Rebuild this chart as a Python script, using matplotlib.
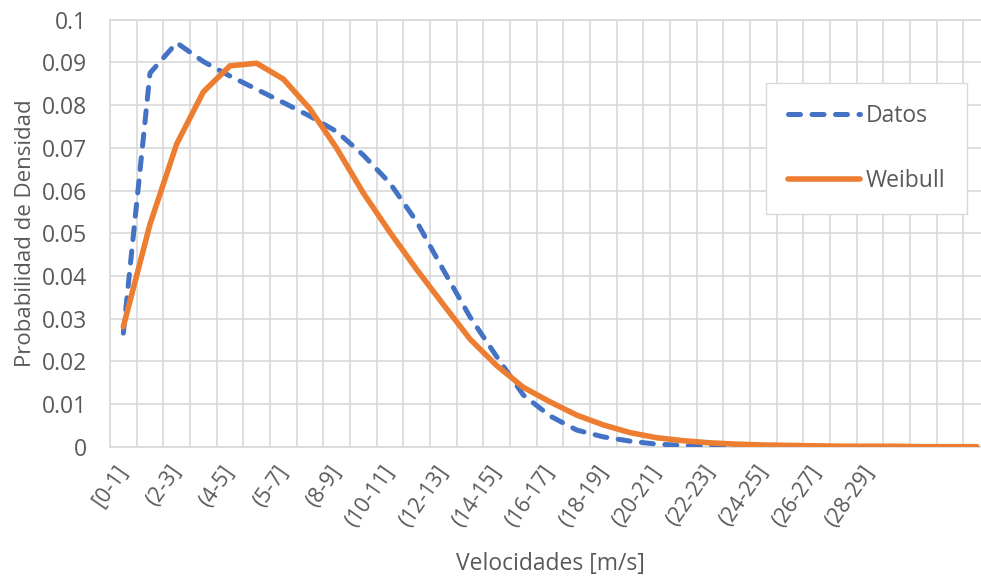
import matplotlib
matplotlib.use('Agg')
import matplotlib.pyplot as plt
from matplotlib.transforms import ScaledTranslation

# wind speed bins (one per m/s), only every second one is labelled
n_bins = 33
tick_labels = ['[0-1]', '(2-3]', '(4-5]', '(5-7]', '(8-9]', '(10-11]', '(12-13]',
               '(14-15]', '(16-17]', '(18-19]', '(20-21]', '(22-23]', '(24-25]',
               '(26-27]', '(28-29]']

datos = [0.0266, 0.0875, 0.0946, 0.0902, 0.0868, 0.0837, 0.0806, 0.0774, 0.0738,
         0.0683, 0.0617, 0.0527, 0.0414, 0.0304, 0.0211, 0.0121, 0.0072, 0.0039,
         0.0023, 0.0013, 0.0006, 0.0003, 0.0001, 0.0, 0.0, 0.0, 0.0, 0.0, 0.0,
         0.0, 0.0, 0.0, 0.0]
weibull = [0.0281, 0.0521, 0.0709, 0.0831, 0.0892, 0.0898, 0.0861, 0.0791, 0.0699,
           0.0594, 0.0502, 0.0415, 0.0333, 0.0252, 0.0190, 0.0139, 0.0105, 0.0074,
           0.0051, 0.0033, 0.0021, 0.0014, 0.0009, 0.0006, 0.0004, 0.0003, 0.0002,
           0.0001, 0.0001, 0.0001, 0.0, 0.0, 0.0]

y_ticks = [0, 0.01, 0.02, 0.03, 0.04, 0.05, 0.06, 0.07, 0.08, 0.09, 0.1]
y_tick_labels = ['0', '0.01', '0.02', '0.03', '0.04', '0.05', '0.06', '0.07',
                 '0.08', '0.09', '0.1']

grey = '#595959'
grid = '#d9d9d9'
plt.rcParams['font.family'] = ['Open Sans', 'DejaVu Sans']
fs = 16.5

fig = plt.figure(figsize=(9.81, 5.78), dpi=100)
# the plot area runs a little past the right edge, as in the original crop
ax = fig.add_axes([110 / 981, 1 - 446.7 / 578, 880 / 981, 427 / 578])

x = list(range(n_bins))
ax.plot(x, datos, color='#4472C4', lw=3.6, dashes=(2.4, 2.3),
        dash_capstyle='round', solid_joinstyle='round', label='Datos', zorder=3)
ax.plot(x, weibull, color='#ED7D31', lw=4.0, solid_capstyle='round',
        solid_joinstyle='round', label='Weibull', zorder=4)

ax.set_xlim(-0.5, n_bins - 0.5)
ax.set_ylim(0, 0.1)

# gridlines on category boundaries
ax.set_xticks([i - 0.5 for i in range(n_bins + 1)], minor=True)
ax.set_xticks(list(range(0, 30, 2)))
ax.set_xticklabels(tick_labels, rotation=55, ha='right', va='center',
                   rotation_mode='anchor', color=grey, fontsize=15.5)
shift = ScaledTranslation(7 / 100, 0, fig.dpi_scale_trans)
for lab in ax.get_xticklabels():
    lab.set_transform(lab.get_transform() + shift)
ax.set_yticks(y_ticks)
ax.set_yticklabels(y_tick_labels, color=grey, fontsize=fs)
ax.tick_params(axis='both', which='both', length=0)
ax.tick_params(axis='x', pad=15)
ax.tick_params(axis='y', pad=16.5)
ax.grid(True, axis='x', which='minor', color=grid, lw=1.2)
ax.grid(True, axis='y', which='major', color=grid, lw=1.2)
ax.set_axisbelow(True)
for s in ax.spines.values():
    s.set_color(grid)
    s.set_linewidth(1.2)

ax.set_xlabel('Velocidades [m/s]', color=grey, fontsize=fs, labelpad=15)
ax.set_ylabel('Probabilidad de Densidad', color=grey, fontsize=16, labelpad=4)

fig.legend(loc='upper left', bbox_to_anchor=(766 / 981, 1 - 82.7 / 578),
           borderaxespad=0, frameon=True, fancybox=False, edgecolor=grid,
           framealpha=1, fontsize=fs, handlelength=3.15, handletextpad=0.26,
           labelspacing=1.75, borderpad=0.95, labelcolor=grey)

fig.savefig('out.png', dpi=100)
